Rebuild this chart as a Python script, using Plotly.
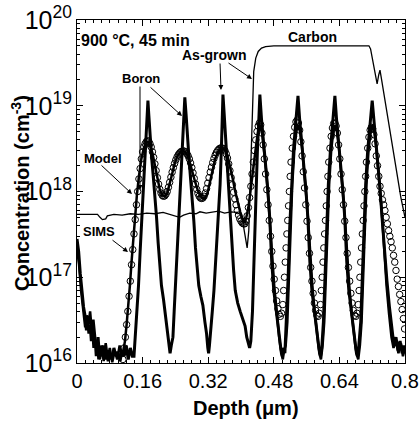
import plotly.graph_objects as go

# ---------------- data ----------------
# Carbon SIMS profile
carbon_depth = [0.000, 0.020, 0.050, 0.056, 0.062, 0.070, 0.074, 0.090, 0.110, 0.130, 0.150, 0.170,
                0.190, 0.210, 0.225, 0.240, 0.250, 0.260, 0.275, 0.290, 0.300, 0.315, 0.330, 0.345,
                0.360, 0.375, 0.390, 0.398, 0.404, 0.410, 0.415, 0.419, 0.423, 0.427, 0.431, 0.436,
                0.442, 0.450, 0.460, 0.480, 0.500, 0.530, 0.560, 0.600, 0.640, 0.680, 0.712, 0.716,
                0.722, 0.728, 0.732, 0.736, 0.739, 0.743, 0.750, 0.760, 0.770, 0.780, 0.790, 0.800]
carbon_conc = [5.4e17, 5.4e17, 5.4e17, 5.0e17, 4.7e17, 4.8e17, 5.2e17, 5.4e17, 5.3e17, 5.5e17, 5.4e17, 5.6e17,
               5.5e17, 5.7e17, 5.4e17, 5.2e17, 5.0e17, 5.3e17, 5.6e17, 5.5e17, 5.8e17, 5.6e17, 5.7e17, 5.9e17,
               5.6e17, 5.8e17, 5.7e17, 5.4e17, 4.5e17, 3.0e17, 2.2e17, 3.5e17, 1.5e18, 9.0e18, 2.5e19, 3.6e19,
               4.3e19, 4.7e19, 4.9e19, 5.0e19, 5.0e19, 5.1e19, 5.0e19, 5.1e19, 5.0e19, 5.1e19, 5.0e19, 4.6e19,
               3.2e19, 2.2e19, 1.8e19, 2.3e19, 2.6e19, 2.0e19, 1.25e19, 6.0e18, 3.0e18, 1.6e18, 8.5e17, 5.0e17]

# As-grown boron SIMS profile
asgrown_depth = [0.000, 0.004, 0.008, 0.012, 0.016, 0.020, 0.023, 0.026, 0.029, 0.032, 0.035, 0.038,
                 0.041, 0.044, 0.047, 0.050, 0.053, 0.056, 0.060, 0.064, 0.068, 0.072, 0.076, 0.080,
                 0.085, 0.090, 0.095, 0.100, 0.105, 0.110, 0.115, 0.120, 0.125, 0.130, 0.135,
                 0.139, 0.145, 0.150, 0.154, 0.158, 0.162, 0.166, 0.169, 0.171, 0.173, 0.175, 0.178,
                 0.182, 0.186, 0.190, 0.194, 0.198, 0.202, 0.206, 0.211, 0.216, 0.220, 0.224, 0.227, 0.230,
                 0.234, 0.237, 0.240, 0.244, 0.248, 0.252, 0.255, 0.258, 0.261, 0.263, 0.266, 0.269,
                 0.273, 0.277, 0.281, 0.285, 0.289, 0.293, 0.297, 0.302, 0.307, 0.312, 0.316, 0.319, 0.321, 0.323,
                 0.326, 0.330, 0.334, 0.338, 0.342, 0.346, 0.349, 0.352, 0.354, 0.356, 0.359, 0.362,
                 0.366, 0.370, 0.374, 0.378, 0.382, 0.386, 0.392, 0.398, 0.404, 0.410, 0.414, 0.418, 0.421,
                 0.424, 0.428, 0.431, 0.434, 0.437, 0.440, 0.443, 0.446, 0.450, 0.455, 0.460, 0.465,
                 0.470, 0.475, 0.480, 0.486, 0.492, 0.497, 0.501, 0.504, 0.507,
                 0.511, 0.515, 0.519, 0.523, 0.528, 0.533, 0.539, 0.543, 0.548, 0.553, 0.558, 0.563,
                 0.568, 0.573, 0.579, 0.585, 0.590, 0.594, 0.597,
                 0.601, 0.605, 0.609, 0.613, 0.618, 0.623, 0.629, 0.633, 0.638, 0.643, 0.648, 0.653,
                 0.658, 0.663, 0.669, 0.675, 0.680, 0.684, 0.687,
                 0.692, 0.696, 0.700, 0.704, 0.709, 0.714, 0.720, 0.724, 0.729, 0.734, 0.739, 0.744,
                 0.750, 0.756, 0.762, 0.768, 0.773, 0.778, 0.783, 0.788, 0.793, 0.797, 0.800]
asgrown_conc = [2.8e17, 2.0e17, 1.1e17, 6.5e16, 4.5e16, 3.5e16, 2.4e16, 3.2e16, 2.2e16, 2.8e16, 1.8e16, 2.5e16,
                1.5e16, 2.0e16, 1.2e16, 1.7e16, 1.1e16, 1.5e16, 1.2e16, 1.6e16, 1.1e16, 1.4e16, 1.05e16, 1.3e16,
                1.1e16, 1.5e16, 1.2e16, 1.35e16, 1.05e16, 1.4e16, 1.2e16, 1.6e16, 1.1e16, 1.5e16, 1.2e16,
                1.2e16, 3.0e16, 8.0e16, 2.0e17, 5.0e17, 1.1e18, 2.5e18, 5.0e18, 8.0e18, 1.15e19, 8.0e18, 4.5e18,
                2.5e18, 1.5e18, 9.0e17, 5.0e17, 2.5e17, 1.3e17, 8.0e16, 5.5e16, 3.5e16, 2.4e16, 1.6e16, 1.3e16, 1.6e16,
                2.0e16, 4.0e16, 8.0e16, 2.0e17, 4.5e17, 9.0e17, 2.0e18, 4.0e18, 8.0e18, 1.25e19, 8.0e18, 4.5e18,
                2.5e18, 1.4e18, 8.5e17, 4.5e17, 2.2e17, 1.2e17, 8.0e16, 6.0e16, 4.7e16, 3.0e16, 2.2e16, 1.5e16, 1.3e16, 1.6e16,
                2.2e16, 4.0e16, 7.0e16, 1.4e17, 3.0e17, 6.0e17, 1.2e18, 3.0e18, 6.0e18, 1.35e19, 8.0e18, 4.5e18,
                2.5e18, 1.2e18, 6.0e17, 2.5e17, 1.2e17, 7.0e16, 5.0e16, 4.0e16, 3.2e16, 2.7e16, 2.0e16, 1.6e16, 1.5e16,
                1.8e16, 4.0e16, 1.2e17, 4.0e17, 1.1e18, 3.0e18, 6.0e18, 1.35e19, 7.0e18, 4.0e18, 2.2e18, 1.1e18,
                5.0e17, 1.5e17, 7.0e16, 4.0e16, 2.2e16, 1.5e16, 1.2e16, 1.5e16, 1.3e16,
                3.0e16, 1.0e17, 4.0e17, 1.2e18, 3.0e18, 6.0e18, 1.3e19, 7.0e18, 4.0e18, 2.2e18, 1.1e18, 5.0e17,
                1.5e17, 7.0e16, 4.0e16, 2.2e16, 1.5e16, 1.2e16, 1.5e16,
                3.0e16, 1.0e17, 4.0e17, 1.2e18, 3.0e18, 6.0e18, 1.3e19, 7.0e18, 4.0e18, 2.2e18, 1.1e18, 5.0e17,
                1.5e17, 7.0e16, 4.0e16, 2.2e16, 1.5e16, 1.2e16, 1.5e16,
                3.0e16, 1.0e17, 4.0e17, 1.2e18, 3.0e18, 6.0e18, 1.15e19, 7.0e18, 4.0e18, 2.2e18, 1.1e18, 5.0e17,
                2.0e17, 9.0e16, 4.5e16, 2.5e16, 1.6e16, 2.0e16, 1.4e16, 1.8e16, 1.3e16, 1.6e16, 1.3e16]

# Annealed (900 C, 45 min) boron SIMS profile
annealed_depth = [0.000, 0.005, 0.010, 0.015, 0.020, 0.024, 0.028, 0.032, 0.036, 0.040, 0.044, 0.048,
                  0.052, 0.056, 0.060, 0.065, 0.070, 0.075, 0.080, 0.086, 0.092, 0.098, 0.104, 0.110, 0.114,
                  0.117, 0.121, 0.125, 0.129, 0.133, 0.137, 0.141, 0.146, 0.151, 0.157, 0.163, 0.168,
                  0.173, 0.178, 0.184, 0.190, 0.196, 0.202, 0.208, 0.214, 0.220, 0.226, 0.232, 0.238,
                  0.245, 0.252, 0.258, 0.264, 0.270, 0.276, 0.282, 0.288, 0.294, 0.300, 0.306, 0.312,
                  0.318, 0.324, 0.330, 0.337, 0.344, 0.350, 0.356, 0.362, 0.368, 0.374, 0.380, 0.386,
                  0.392, 0.398, 0.404, 0.409,
                  0.413, 0.418, 0.423, 0.428, 0.433, 0.438, 0.442, 0.446, 0.451, 0.456, 0.461, 0.466,
                  0.471, 0.476, 0.481, 0.487, 0.493, 0.498, 0.502, 0.505,
                  0.509, 0.513, 0.517, 0.521, 0.525, 0.530, 0.535, 0.539, 0.544, 0.549, 0.554, 0.559,
                  0.564, 0.569, 0.574, 0.580, 0.586, 0.591, 0.595,
                  0.599, 0.603, 0.607, 0.611, 0.615, 0.620, 0.625, 0.629, 0.634, 0.639, 0.644, 0.649,
                  0.654, 0.659, 0.664, 0.670, 0.676, 0.681, 0.686,
                  0.690, 0.694, 0.698, 0.702, 0.706, 0.711, 0.716, 0.720, 0.725, 0.730, 0.735, 0.740,
                  0.745, 0.750, 0.755, 0.761, 0.767, 0.772, 0.778, 0.784, 0.790, 0.795, 0.800]
annealed_conc = [2.2e17, 1.4e17, 7.0e16, 4.0e16, 2.6e16, 3.6e16, 2.8e16, 4.0e16, 2.4e16, 3.2e16, 1.8e16, 1.3e16,
                 2.0e16, 1.1e16, 1.6e16, 1.05e16, 1.7e16, 1.15e16, 1.5e16, 1.02e16, 1.4e16, 1.1e16, 1.6e16, 1.2e16, 1.5e16,
                 1.8e16, 2.8e16, 4.5e16, 8.0e16, 1.5e17, 2.8e17, 5.0e17, 9.0e17, 1.5e18, 2.4e18, 3.2e18, 3.7e18,
                 3.8e18, 3.5e18, 2.8e18, 2.0e18, 1.4e18, 1.05e18, 9.0e17, 8.8e17, 9.5e17, 1.2e18, 1.6e18, 2.1e18,
                 2.6e18, 2.9e18, 3.0e18, 2.9e18, 2.6e18, 2.1e18, 1.6e18, 1.3e18, 1.05e18, 9.0e17, 8.3e17, 8.3e17,
                 9.5e17, 1.3e18, 1.8e18, 2.4e18, 2.9e18, 3.1e18, 3.2e18, 3.0e18, 2.5e18, 1.9e18, 1.4e18, 1.0e18,
                 7.5e17, 5.8e17, 4.8e17, 4.3e17,
                 5.0e17, 6.5e17, 1.0e18, 1.6e18, 2.6e18, 3.8e18, 5.0e18, 6.0e18, 5.0e18, 3.2e18, 1.8e18, 9.0e17,
                 4.5e17, 1.8e17, 8.0e16, 3.8e16, 2.0e16, 1.3e16, 1.1e16, 1.4e16,
                 1.6e16, 3.0e16, 1.0e17, 4.0e17, 1.2e18, 3.0e18, 5.0e18, 6.0e18, 5.0e18, 3.2e18, 1.8e18, 9.0e17,
                 4.5e17, 1.8e17, 8.0e16, 3.8e16, 2.0e16, 1.3e16, 1.1e16,
                 1.6e16, 3.0e16, 1.0e17, 4.0e17, 1.2e18, 3.0e18, 5.0e18, 6.0e18, 5.0e18, 3.2e18, 1.8e18, 9.0e17,
                 4.5e17, 1.8e17, 8.0e16, 3.8e16, 2.0e16, 1.3e16, 1.1e16,
                 1.6e16, 3.0e16, 1.0e17, 4.0e17, 1.2e18, 3.0e18, 5.0e18, 6.0e18, 5.0e18, 3.2e18, 1.8e18, 9.0e17,
                 4.5e17, 1.8e17, 8.0e16, 3.8e16, 2.0e16, 1.5e16, 1.8e16, 1.3e16, 1.7e16, 1.2e16, 1.5e16]

# Model (open circles)
model_depth = [0.112, 0.115, 0.118, 0.121, 0.124, 0.127, 0.130, 0.133, 0.136, 0.139, 0.142, 0.145,
               0.148, 0.151, 0.154, 0.157, 0.160, 0.163, 0.166, 0.169, 0.172, 0.175, 0.178, 0.181,
               0.184, 0.187, 0.190, 0.193, 0.196, 0.199, 0.202, 0.205, 0.208, 0.211, 0.214, 0.217,
               0.220, 0.223, 0.226, 0.229, 0.232, 0.235, 0.238, 0.241, 0.244, 0.247, 0.250, 0.253,
               0.256, 0.259, 0.262, 0.265, 0.268, 0.271, 0.274, 0.277, 0.280, 0.283, 0.286, 0.289,
               0.292, 0.295, 0.298, 0.301, 0.304, 0.307, 0.310, 0.313, 0.316, 0.319, 0.322, 0.325,
               0.328, 0.331, 0.334, 0.337, 0.340, 0.343, 0.346, 0.349, 0.352, 0.355, 0.358, 0.361,
               0.364, 0.367, 0.370, 0.373, 0.376, 0.379, 0.382, 0.385, 0.388, 0.391, 0.394, 0.397,
               0.400, 0.403, 0.406, 0.409,
               0.412, 0.415, 0.418, 0.421, 0.424, 0.427, 0.430, 0.433, 0.436, 0.439, 0.442, 0.445,
               0.448, 0.451, 0.454, 0.457, 0.460, 0.463, 0.466, 0.469, 0.472, 0.475, 0.478, 0.481,
               0.484, 0.487, 0.490, 0.493, 0.496,
               0.499, 0.502, 0.504, 0.506, 0.508, 0.510, 0.512, 0.514, 0.516, 0.518, 0.520, 0.522,
               0.525, 0.528, 0.531, 0.534, 0.537, 0.540, 0.543, 0.546, 0.549, 0.552, 0.555, 0.558,
               0.561, 0.564, 0.567, 0.570, 0.573, 0.576, 0.579, 0.582, 0.585, 0.588,
               0.591, 0.594, 0.596, 0.598, 0.600, 0.602, 0.604, 0.606, 0.608, 0.610, 0.612, 0.614,
               0.617, 0.620, 0.623, 0.626, 0.629, 0.632, 0.635, 0.638, 0.641, 0.644, 0.647, 0.650,
               0.653, 0.656, 0.659, 0.662, 0.665, 0.668, 0.671, 0.674, 0.677, 0.680,
               0.683, 0.686, 0.688, 0.690, 0.692, 0.694, 0.696, 0.698, 0.700, 0.702, 0.704, 0.706,
               0.709, 0.712, 0.715, 0.718, 0.721, 0.724, 0.727, 0.730, 0.733, 0.736, 0.739, 0.742,
               0.745, 0.748, 0.751, 0.754, 0.757, 0.760, 0.763, 0.766, 0.769, 0.772, 0.775, 0.778,
               0.781, 0.784, 0.787, 0.790, 0.793, 0.796, 0.799]
model_conc = [1.1e16, 1.5e16, 2.0e16, 2.8e16, 4.0e16, 6.0e16, 9.0e16, 1.4e17, 2.1e17, 3.2e17, 4.7e17, 7.0e17,
              1.0e18, 1.4e18, 1.85e18, 2.4e18, 2.9e18, 3.3e18, 3.6e18, 3.8e18, 3.9e18, 3.85e18, 3.6e18, 3.3e18,
              2.9e18, 2.5e18, 2.1e18, 1.75e18, 1.45e18, 1.22e18, 1.06e18, 9.6e17, 9.0e17, 8.8e17, 8.9e17, 9.3e17,
              1.0e18, 1.12e18, 1.28e18, 1.47e18, 1.68e18, 1.9e18, 2.12e18, 2.33e18, 2.52e18, 2.68e18, 2.8e18, 2.9e18,
              2.95e18, 2.97e18, 2.95e18, 2.88e18, 2.76e18, 2.6e18, 2.4e18, 2.15e18, 1.9e18, 1.65e18, 1.42e18, 1.22e18,
              1.06e18, 9.5e17, 8.8e17, 8.4e17, 8.3e17, 8.4e17, 8.8e17, 9.6e17, 1.08e18, 1.25e18, 1.45e18, 1.68e18,
              1.92e18, 2.17e18, 2.42e18, 2.65e18, 2.85e18, 3.0e18, 3.12e18, 3.2e18, 3.22e18, 3.2e18, 3.12e18, 2.98e18,
              2.75e18, 2.45e18, 2.1e18, 1.75e18, 1.45e18, 1.2e18, 9.8e17, 8.2e17, 7.0e17, 6.0e17, 5.3e17, 4.8e17,
              4.5e17, 4.3e17, 4.2e17, 4.2e17,
              4.5e17, 5.2e17, 6.5e17, 8.5e17, 1.15e18, 1.6e18, 2.2e18, 3.0e18, 4.0e18, 5.0e18, 5.8e18, 6.3e18,
              6.0e18, 4.8e18, 3.5e18, 2.4e18, 1.6e18, 1.05e18, 7.0e17, 4.6e17, 3.0e17, 2.0e17, 1.35e17, 9.5e16,
              7.0e16, 5.3e16, 4.3e16, 3.7e16, 3.5e16,
              3.8e16, 4.8e16, 7.0e16, 1.0e17, 1.5e17, 2.2e17, 3.2e17, 4.6e17, 6.8e17, 1.0e18, 1.5e18, 2.2e18,
              3.2e18, 4.4e18, 5.6e18, 6.5e18, 6.8e18, 6.3e18, 5.2e18, 3.8e18, 2.6e18, 1.7e18, 1.1e18, 7.0e17,
              4.5e17, 2.9e17, 1.9e17, 1.3e17, 9.0e16, 6.5e16, 5.0e16, 4.1e16, 3.6e16, 3.5e16,
              3.8e16, 4.8e16, 7.0e16, 1.0e17, 1.5e17, 2.2e17, 3.2e17, 4.6e17, 6.8e17, 1.0e18, 1.5e18, 2.2e18,
              3.2e18, 4.4e18, 5.5e18, 6.2e18, 6.3e18, 5.8e18, 4.8e18, 3.5e18, 2.4e18, 1.6e18, 1.05e18, 7.0e17,
              4.5e17, 2.9e17, 1.9e17, 1.3e17, 9.0e16, 6.5e16, 5.0e16, 4.1e16, 3.6e16, 3.5e16,
              3.8e16, 4.8e16, 7.0e16, 1.0e17, 1.5e17, 2.2e17, 3.2e17, 4.6e17, 6.8e17, 1.0e18, 1.5e18, 2.2e18,
              3.2e18, 4.3e18, 5.2e18, 5.6e18, 5.4e18, 4.6e18, 3.6e18, 2.6e18, 2.0e18, 1.5e18, 1.15e18, 9.5e17,
              8.0e17, 7.0e17, 6.0e17, 5.0e17, 4.2e17, 3.5e17, 3.0e17, 2.6e17, 2.2e17, 1.8e17, 1.5e17, 1.2e17,
              9.5e16, 7.8e16, 6.3e16, 5.2e16, 4.2e16, 3.3e16, 2.5e16]

x_tickvals = [0, 0.16, 0.32, 0.48, 0.64, 0.8]
x_ticktext = ["0", "0.16", "0.32", "0.48", "0.64", "0.8"]

# ---------------- figure geometry ----------------
W, H = 419, 425
BOX_L, BOX_R, BOX_T, BOX_B = 77, 405, 20, 363      # plot box in pixels
PW, PH = BOX_R - BOX_L, BOX_B - BOX_T


def px(x):
    return (x - BOX_L) / PW


def py(y):
    return (BOX_B - y) / PH


fig = go.Figure()
fig.add_trace(go.Scatter(x=carbon_depth, y=carbon_conc, mode="lines",
                         line=dict(color="black", width=1.3), name="Carbon"))
fig.add_trace(go.Scatter(x=model_depth, y=model_conc, mode="markers",
                         marker=dict(symbol="circle-open", size=6.5, color="black", line=dict(width=1)),
                         name="Model"))
fig.add_trace(go.Scatter(x=annealed_depth, y=annealed_conc, mode="lines",
                         line=dict(color="black", width=2.5), name="SIMS"))
fig.add_trace(go.Scatter(x=asgrown_depth, y=asgrown_conc, mode="lines",
                         line=dict(color="black", width=3), name="As-grown"))

font_main = "Arial, Liberation Sans, Helvetica, sans-serif"

labels = [
    ("<b>900 °C, 45 min</b>", 135, 41, 16, 0),
    ("<b>As-grown</b>", 214, 55, 14, 0),
    ("<b>Carbon</b>", 312, 37, 14, 0),
    ("<b>Boron</b>", 141, 78, 13, 0),
    ("<b>Model</b>", 103, 158, 13, 0),
    ("<b>SIMS</b>", 99, 231, 13, 0),
    ("<b>Depth (μm)</b>", 246, 408, 20, 0),
    ("<b>Concentration (cm<sup>-3</sup>)</b>", 21, 193, 20, -90),
]
for txt, x, y, s, ang in labels:
    fig.add_annotation(x=px(x), y=py(y), xref="paper", yref="paper", text=txt, showarrow=False,
                       font=dict(family=font_main, size=s, color="black"), textangle=ang,
                       xanchor="center", yanchor="middle")

arrows = [
    # (tail x, tail y, head x, head y) in pixels
    (220, 62, 221, 90),
    (227, 62, 252, 79),
    (140, 85, 140, 190),
    (149, 86, 182, 116),
    (100, 164, 132, 194),
    (111, 239, 128, 252),
]
for tx, ty, hx, hy in arrows:
    fig.add_annotation(x=px(hx), y=py(hy), xref="paper", yref="paper", text="",
                       showarrow=True, ax=tx - hx, ay=ty - hy, axref="pixel", ayref="pixel",
                       arrowhead=2, arrowsize=1, arrowwidth=1, arrowcolor="black", standoff=0)

fig.update_layout(
    width=W, height=H,
    margin=dict(l=BOX_L, r=W - BOX_R, t=BOX_T, b=H - BOX_B, autoexpand=False),
    paper_bgcolor="white", plot_bgcolor="white",
    showlegend=False,
    hovermode=False,
    font=dict(family=font_main, color="black"),
    xaxis=dict(
        range=[0, 0.8], tickvals=x_tickvals, ticktext=x_ticktext, automargin=False,
        ticks="inside", ticklen=6, tickcolor="black", tickwidth=1,
        minor=dict(ticks="inside", ticklen=3, dtick=0.02, tick0=0, tickcolor="black", showgrid=False),
        showline=True, linecolor="black", linewidth=1, mirror="ticks",
        showgrid=False, zeroline=False,
        tickfont=dict(size=20, family=font_main, color="black"),
    ),
    yaxis=dict(
        type="log", range=[16, 20], dtick=1, exponentformat="power", automargin=False,
        ticks="inside", ticklen=6, tickcolor="black", tickwidth=1,
        minor=dict(ticks="inside", ticklen=3, dtick="D1", tickcolor="black", showgrid=False),
        showline=True, linecolor="black", linewidth=1, mirror="ticks",
        showgrid=False, zeroline=False,
        tickfont=dict(size=20, family=font_main, color="black"),
    ),
)

# remove the browser's default 8 px page margin so the figure fills the window exactly
fig.write_html("out.html", config={"displayModeBar": False, "staticPlot": True},
               post_script="document.body.style.margin='0px';")
